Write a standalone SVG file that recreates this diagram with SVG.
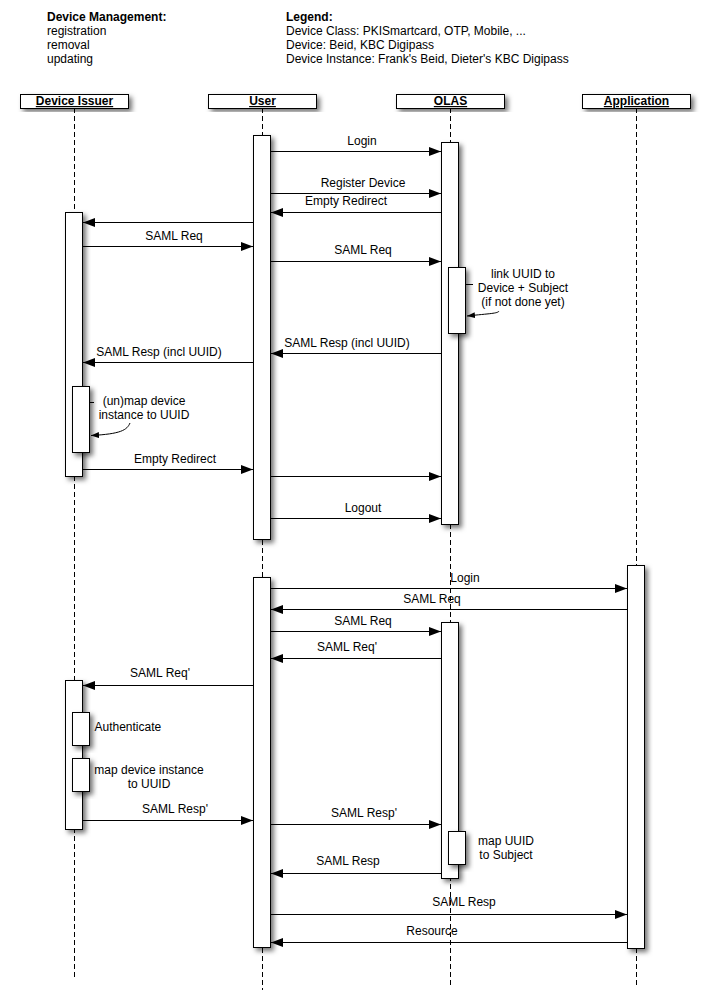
<svg xmlns="http://www.w3.org/2000/svg" width="709" height="1001" viewBox="0 0 709 1001">
<style>
text{font-family:"Liberation Sans",Arial,Helvetica,sans-serif;font-size:12px;fill:#000}
.b{font-weight:bold}
.h{font-weight:bold;text-anchor:middle;text-decoration:underline}
.m{text-anchor:middle}
.life{stroke:#000;stroke-width:1;stroke-dasharray:5,3;fill:none}
.box{fill:#fff;stroke:#000;stroke-width:1;filter:url(#sh)}
.msg{stroke:#000;stroke-width:1;fill:none;marker-end:url(#ah)}
.note{stroke:#000;stroke-width:1;fill:none}
</style>
<defs>
<filter id="sh" x="-50%" y="-20%" width="200%" height="140%">
<feDropShadow dx="3" dy="3" stdDeviation="2.5" flood-color="#000" flood-opacity="0.55"/>
</filter>
<marker id="ah" viewBox="0 0 12 9" refX="12" refY="4.5" markerWidth="12" markerHeight="9" markerUnits="userSpaceOnUse" orient="auto">
<path d="M0,0 L12,4.5 L0,9 z" fill="#000"/>
</marker>
<marker id="sa" viewBox="0 0 8 6" refX="8" refY="3" markerWidth="8" markerHeight="6" markerUnits="userSpaceOnUse" orient="auto">
<path d="M0,0 L8,3 L0,6 z" fill="#000"/>
</marker>
</defs>

<g id="header">
<text class="b" x="47" y="21">Device Management:</text>
<text x="47" y="35">registration</text>
<text x="47" y="49">removal</text>
<text x="47" y="63">updating</text>
<text class="b" x="286" y="21">Legend:</text>
<text x="286" y="35">Device Class: PKISmartcard, OTP, Mobile, ...</text>
<text x="286" y="49">Device: Beid, KBC Digipass</text>
<text x="286" y="63">Device Instance: Frank's Beid, Dieter's KBC Digipass</text>
</g>

<g id="lifelines">
<line class="life" x1="74.5" y1="108" x2="74.5" y2="977"/>
<line class="life" x1="262.5" y1="108" x2="262.5" y2="990"/>
<line class="life" x1="450.5" y1="108" x2="450.5" y2="985"/>
<line class="life" x1="636.5" y1="108" x2="636.5" y2="985"/>
</g>

<g id="device-issuer">
<rect class="box" x="20.5" y="94.5" width="108" height="14"/>
<text class="h" x="74.5" y="105">Device Issuer</text>
</g>
<g id="user">
<rect class="box" x="208.5" y="94.5" width="108" height="14"/>
<text class="h" x="262.5" y="105">User</text>
</g>
<g id="olas">
<rect class="box" x="396.5" y="94.5" width="108" height="14"/>
<text class="h" x="450.5" y="105">OLAS</text>
</g>
<g id="application">
<rect class="box" x="582.5" y="94.5" width="108" height="14"/>
<text class="h" x="636.5" y="105">Application</text>
</g>

<g id="activations">
<rect id="act-user-1" class="box" x="253.5" y="135.5" width="17" height="404"/>
<rect id="act-olas-1" class="box" x="441.5" y="142.5" width="17" height="382"/>
<rect id="act-olas-1b" class="box" x="448.5" y="267.5" width="17" height="66"/>
<rect id="act-di-1" class="box" x="65.5" y="212.5" width="17" height="264"/>
<rect id="act-di-1b" class="box" x="72.5" y="386.5" width="17" height="66"/>
<rect id="act-user-2" class="box" x="253.5" y="577.5" width="17" height="370"/>
<rect id="act-app-2" class="box" x="627.5" y="565.5" width="17" height="383"/>
<rect id="act-olas-2" class="box" x="441.5" y="622.5" width="17" height="256"/>
<rect id="act-olas-2b" class="box" x="448.5" y="831.5" width="17" height="33"/>
<rect id="act-di-2" class="box" x="65.5" y="680.5" width="17" height="149"/>
<rect id="act-di-2b" class="box" x="72.5" y="712.5" width="17" height="33"/>
<rect id="act-di-2c" class="box" x="72.5" y="758.5" width="17" height="33"/>
</g>

<g id="connectors">
<line class="msg" x1="270.5" y1="151.5" x2="441" y2="151.5"/>
<line class="msg" x1="270.5" y1="193.5" x2="441" y2="193.5"/>
<line class="msg" x1="441.5" y1="212.5" x2="271" y2="212.5"/>
<line class="msg" x1="253.5" y1="222.5" x2="83" y2="222.5"/>
<line class="msg" x1="82.5" y1="246.5" x2="253" y2="246.5"/>
<line class="msg" x1="270.5" y1="261.5" x2="441" y2="261.5"/>
<line class="msg" x1="441.5" y1="353.5" x2="271" y2="353.5"/>
<line class="msg" x1="253.5" y1="362.5" x2="83" y2="362.5"/>
<line class="msg" x1="82.5" y1="469.5" x2="253" y2="469.5"/>
<line class="msg" x1="270.5" y1="476.5" x2="441" y2="476.5"/>
<line class="msg" x1="270.5" y1="518.5" x2="441" y2="518.5"/>

<line class="msg" x1="270.5" y1="588.5" x2="627" y2="588.5"/>
<line class="msg" x1="627.5" y1="609.5" x2="271" y2="609.5"/>
<line class="msg" x1="270.5" y1="631.5" x2="441" y2="631.5"/>
<line class="msg" x1="441.5" y1="658.5" x2="271" y2="658.5"/>
<line class="msg" x1="253.5" y1="685.5" x2="83" y2="685.5"/>
<line class="msg" x1="82.5" y1="820.5" x2="253" y2="820.5"/>
<line class="msg" x1="270.5" y1="824.5" x2="441" y2="824.5"/>
<line class="msg" x1="441.5" y1="873.5" x2="271" y2="873.5"/>
<line class="msg" x1="270.5" y1="914.5" x2="627" y2="914.5"/>
<line class="msg" x1="627.5" y1="942.5" x2="271" y2="942.5"/>

<line class="note" x1="465.5" y1="284.5" x2="473" y2="284.5"/>
<path class="note" d="M499,311 C498,313.5 490,313.5 467,316" marker-end="url(#sa)"/>
<line class="note" x1="89.5" y1="402.5" x2="94" y2="402.5"/>
<path class="note" d="M130,423 C127,430 121,434 91,435.5" marker-end="url(#sa)"/>
</g>

<g id="labels">
<text class="m" x="362" y="145">Login</text>
<text class="m" x="363" y="187">Register Device</text>
<text class="m" x="346" y="205">Empty Redirect</text>
<text class="m" x="174" y="240">SAML Req</text>
<text class="m" x="363" y="254">SAML Req</text>
<text class="m" x="347" y="347">SAML Resp (incl UUID)</text>
<text class="m" x="159" y="356">SAML Resp (incl UUID)</text>
<text class="m" x="175" y="463">Empty Redirect</text>
<text class="m" x="363" y="512">Logout</text>
<text class="m" x="523" y="278">link UUID to</text>
<text class="m" x="523" y="292">Device + Subject</text>
<text class="m" x="523" y="306">(if not done yet)</text>
<text class="m" x="144" y="405">(un)map device</text>
<text class="m" x="144" y="419">instance to UUID</text>

<text class="m" x="465" y="582">Login</text>
<text class="m" x="432" y="603">SAML Req</text>
<text class="m" x="363" y="625">SAML Req</text>
<text class="m" x="347" y="651">SAML Req'</text>
<text class="m" x="160" y="677">SAML Req'</text>
<text x="94.5" y="731">Authenticate</text>
<text class="m" x="149" y="774">map device instance</text>
<text class="m" x="149" y="788">to UUID</text>
<text class="m" x="175" y="813">SAML Resp'</text>
<text class="m" x="364" y="817">SAML Resp'</text>
<text class="m" x="506" y="845">map UUID</text>
<text class="m" x="506" y="859">to Subject</text>
<text class="m" x="348" y="865">SAML Resp</text>
<text class="m" x="464" y="906">SAML Resp</text>
<text class="m" x="432" y="935">Resource</text>
</g>
</svg>
